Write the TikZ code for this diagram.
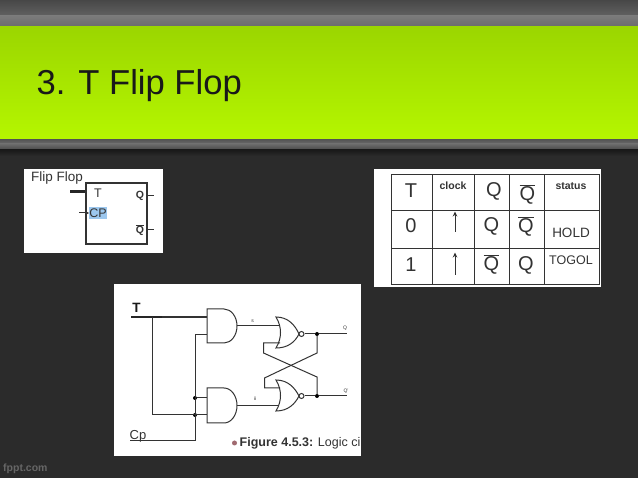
\documentclass[tikz,border=0pt]{standalone}
\usepackage{fontspec}
\setmainfont{Liberation Sans}
\usetikzlibrary{arrows.meta}
\definecolor{bgdark}{HTML}{2B2B2B}
\definecolor{inkgray}{HTML}{333333}
\definecolor{greentop}{HTML}{9BD600}
\definecolor{greenmid}{HTML}{AEEC00}
\definecolor{greenbot}{HTML}{B5F600}
\definecolor{cpblue}{HTML}{9CC7EE}
\definecolor{dotred}{HTML}{A06A70}
\tikzset{
  wire/.style={draw=inkgray,line width=1pt},
  thickwire/.style={draw=black!85,line width=2.6pt},
  gate/.style={draw=inkgray,line width=1pt,fill=white},
  junction/.style={circle,fill=black,inner sep=0pt,minimum size=4pt},
  grid line/.style={draw=inkgray,line width=1pt},
  cell/.style={text=inkgray,inner sep=0pt,anchor=center},
  bigcell/.style={cell,font=\fontsize{20}{20}\selectfont},
  smallb/.style={cell,font=\bfseries\fontsize{10.5}{11}\selectfont},
  tiny label/.style={text=inkgray,inner sep=0pt,font=\fontsize{5}{5}\selectfont},
  panel/.style={fill=white,draw=none},
}
\newcommand{\qbar}{$\overline{\mbox{Q}}$}
\begin{document}
\begin{tikzpicture}[x=1pt,y=-1pt]
\useasboundingbox (0,0) rectangle (638,478);
% slide background
\fill[bgdark] (0,0) rectangle (638,478);
\shade[top color=black!72,bottom color=black!62] (0,0) rectangle (638,16);
\shade[top color=black!52,bottom color=black!58] (0,16) rectangle (638,27);
\shade[top color=black!68,bottom color=black!58] (0,139) rectangle (638,144);
\shade[top color=black!58,bottom color=black!72] (0,144) rectangle (638,150);
\shade[top color=black!90,bottom color=bgdark] (0,150) rectangle (638,156);
\shade[top color=greentop,middle color=greenmid,bottom color=greenbot] (0,27) rectangle (638,139);
\node[anchor=base west,inner sep=0pt,text=black!90,font=\fontsize{34.6}{35}\selectfont] (title) at (36.5,94.5) {3. T Flip Flop};
\node[anchor=base west,inner sep=0pt,text=black!60,font=\bfseries\fontsize{10.5}{11}\selectfont] (brand) at (3,472) {fppt.com};

% symbol panel
\fill[panel] (24,169) rectangle (163,253);
\node[anchor=base west,inner sep=0pt,text=inkgray,font=\fontsize{13.5}{14}\selectfont] (fflabel) at (31,182) {Flip Flop};
\node[draw=inkgray,line width=1.1pt,minimum width=61pt,minimum height=61pt,inner sep=0pt] (ff) at (116.5,213.5) {};
\node[cell,font=\fontsize{12.5}{13}\selectfont] (tpin) at (98,193.5) {T};
\node[cell,fill=cpblue,text=inkgray,minimum width=16.5pt,minimum height=12pt,font=\fontsize{12.5}{13}\selectfont] (cp) at (98,213) {CP};
\node[cell,font=\bfseries\fontsize{10.5}{11}\selectfont] (qpin) at (140,196) {Q};
\node[cell,font=\bfseries\fontsize{10.5}{11}\selectfont] (qbpin) at (140,230) {\qbar};
\coordinate (tin) at (70,191.5);
\coordinate (cin) at (79,213);
\coordinate (qo) at (154,196);
\coordinate (qbo) at (154,230);
\draw[thickwire] (tin) -- (tin -| ff.west);
\draw[wire,-{Stealth[length=4pt,width=4pt]}] (cin) -- (cp.west);
\draw[wire] (ff.east |- qo) -- (qo);
\draw[wire] (ff.east |- qbo) -- (qbo);

% truth table
\fill[panel] (374,169) rectangle (601,287);
\draw[grid line] (391,175) rectangle (599,285);
\foreach \xx in {432,474,509,544} \draw[grid line] (\xx,175) -- (\xx,285);
\foreach \yy in {211,249} \draw[grid line] (391,\yy) -- (599,\yy);
\node[bigcell] (h1) at (411,191) {T};
\node[smallb] (h2) at (453,186) {clock};
\node[bigcell] (h3) at (494,191) {Q};
\node[bigcell] (h4) at (527.5,194) {\qbar};
\node[smallb] (h5) at (571,186) {status};
\node[bigcell] (a1) at (411,226) {0};
\node[bigcell] (a3) at (491.5,226) {Q};
\node[bigcell] (a4) at (526,226) {\qbar};
\node[cell,font=\fontsize{13.5}{14}\selectfont] (a5) at (571,233) {HOLD};
\node[bigcell] (b1) at (411,265) {1};
\node[bigcell] (b3) at (491.5,264) {\qbar};
\node[bigcell] (b4) at (526,265) {Q};
\node[cell,font=\fontsize{12.5}{13}\selectfont] (b5) at (571,260) {TOGOL};
\coordinate (a2s) at (455,232);
\coordinate (a2e) at (455,211.5);
\coordinate (b2s) at (455,275);
\coordinate (b2e) at (455,252.5);
\draw[wire,-{Stealth[length=5pt,width=4.5pt]}] (a2s) -- (a2e);
\draw[wire,-{Stealth[length=5pt,width=4.5pt]}] (b2s) -- (b2e);

% logic circuit
\fill[panel] (114,284) rectangle (361,456);
\node[inner sep=0pt,text=black!90,font=\bfseries\fontsize{13.5}{14}\selectfont] (tlabel) at (136.5,307.5) {T};
\node[inner sep=0pt,text=inkgray,font=\fontsize{13}{13}\selectfont] (cplabel) at (138,436) {Cp};
% AND gates
\path[gate] (207,309) -- (224,309) arc[start angle=-90,delta angle=180,x radius=13pt,y radius=-17pt] -- (207,343) -- cycle;
\path[gate] (207,388) -- (224,388) arc[start angle=-90,delta angle=180,x radius=13pt,y radius=-17.5pt] -- (207,423) -- cycle;
\coordinate (and1o) at (237,326);
\coordinate (and2o) at (237,405.5);
% NOR gates
\path[gate] (276,317) .. controls (288,317) and (295,325) .. (299,334) .. controls (295,342) and (288,348) .. (276,348) .. controls (282,338) and (282,327) .. (276,317) -- cycle;
\path[gate] (276,380) .. controls (288,380) and (295,388) .. (299,396) .. controls (295,404) and (288,411) .. (276,411) .. controls (282,401) and (282,390) .. (276,380) -- cycle;
\node[circle,gate,inner sep=0pt,minimum size=5pt] (b1n) at (301.5,334) {};
\node[circle,gate,inner sep=0pt,minimum size=5pt] (b2n) at (301.5,396) {};
\node[junction] (jq) at (317,334) {};
\node[junction] (jqb) at (317,396) {};
\node[junction] (ja) at (195,398) {};
\node[junction] (jb) at (195,415) {};
\coordinate (tstart) at (131,317);
\coordinate (tend) at (207,317);
\coordinate (tbr) at (152,317);
\coordinate (cpstart) at (130,441);
\coordinate (cpc) at (195,441);
\coordinate (qend) at (347,334);
\coordinate (qbend) at (347,396);
\draw[wire,line width=1.4pt] (tstart) -- (tend);
\draw[thickwire,line width=2.2pt] (tstart) -- (162,317);
\draw[wire] (tbr) |- (207,415);
\draw[wire] (cpstart) -- (cpc) |- (207,335);
\draw[wire] (ja) -- (207,398);
\draw[wire] (and1o) -- (279,326);
\draw[wire] (and2o) -- (279,405.5);
\draw[wire] (b1n) -- (jq) -- (qend);
\draw[wire] (b2n) -- (jqb) -- (qbend);
\draw[wire] (280,343) -- (263.5,343) -- (263.5,353) -- (317,377) -- (jqb);
\draw[wire] (jq) -- (317,353) -- (264.5,378) -- (264.5,388) -- (280,388);
\node[tiny label] (s) at (252.5,321) {s};
\node[tiny label] (r) at (255,399) {ii};
\node[tiny label] (q) at (345,328) {Q};
\node[tiny label] (qp) at (346,391) {Q'};
% caption
\node[circle,fill=dotred,inner sep=0pt,minimum size=5pt] (bullet) at (234.5,443) {};
\begin{scope}
\clip (114,430) rectangle (361,456);
\node[anchor=base west,inner sep=0pt,text=inkgray,font=\fontsize{12.5}{13}\selectfont] (caption) at (239.5,447) {\textbf{Figure 4.5.3:} Logic ci};
\end{scope}
\end{tikzpicture}
\end{document}
